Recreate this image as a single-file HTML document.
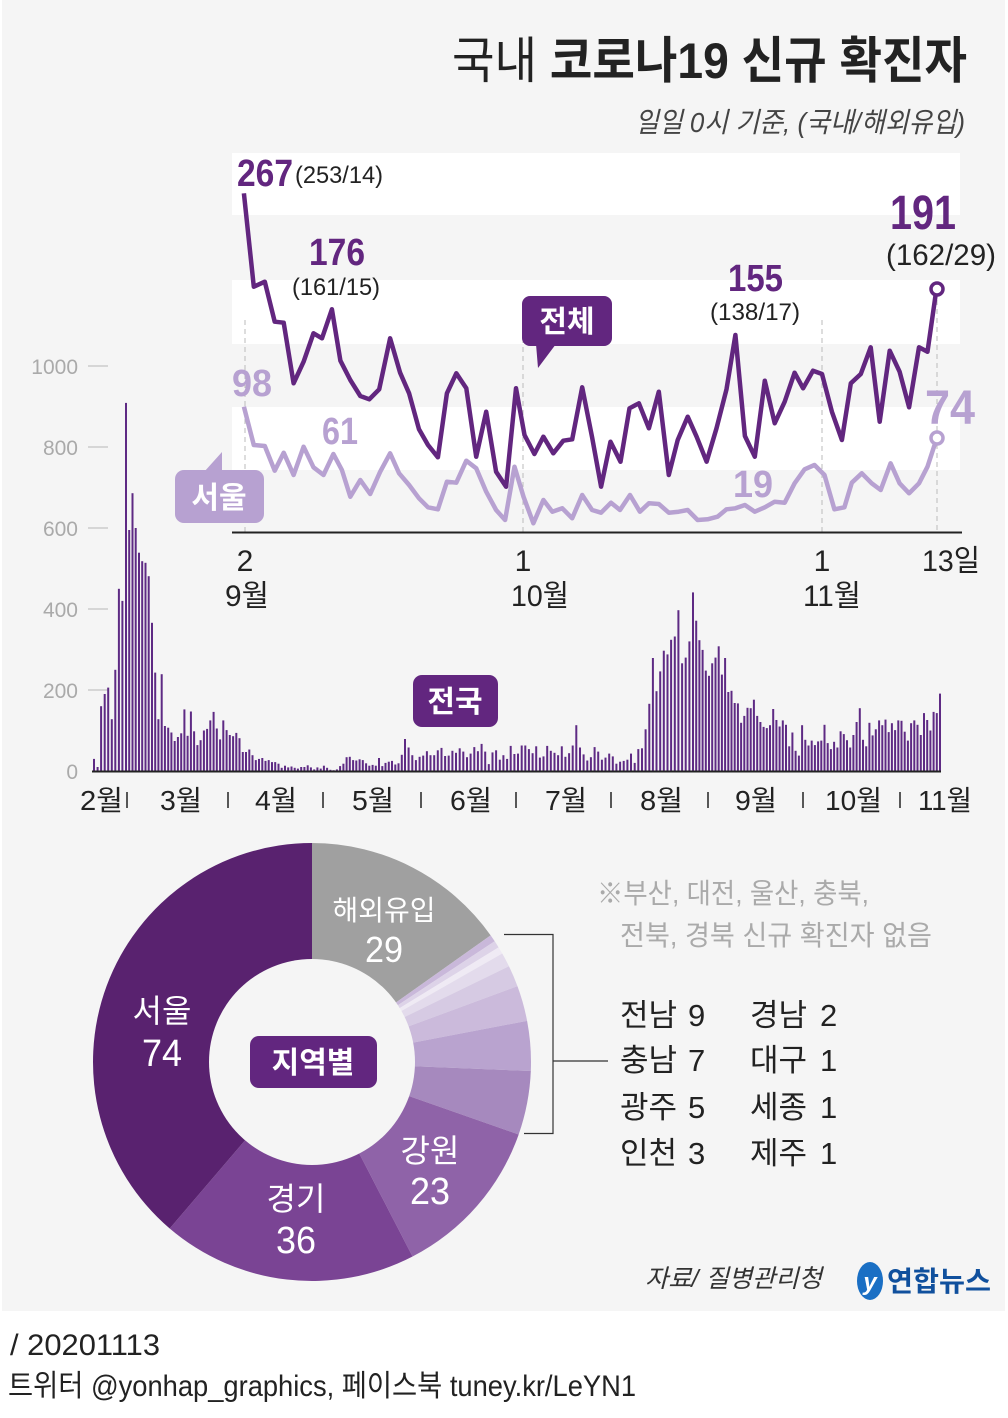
<!DOCTYPE html>
<html><head><meta charset="utf-8"><style>
html,body{margin:0;padding:0;background:#fff;}
svg{display:block;font-family:"Liberation Sans","Noto Sans CJK KR",sans-serif;}
</style></head><body>
<svg id="s" width="1008" height="1418" viewBox="0 0 1008 1418" xmlns="http://www.w3.org/2000/svg">
<rect x="2" y="0" width="1003" height="1311" fill="#f5f5f5"/>
<text x="452" y="78" font-size="50" fill="#222" textLength="515" lengthAdjust="spacingAndGlyphs"><tspan font-weight="normal">국내 </tspan><tspan font-weight="bold">코로나19 신규 확진자</tspan></text>
<text x="635" y="132" font-size="28" fill="#444" font-style="italic" textLength="330" lengthAdjust="spacingAndGlyphs">일일 0시 기준, (국내/해외유입)</text>
<rect x="232" y="153" width="728" height="62" fill="#fff"/>
<rect x="232" y="280" width="728" height="64" fill="#fff"/>
<rect x="232" y="407" width="728" height="63" fill="#fff"/>
<g stroke="#bbb" stroke-width="1" stroke-dasharray="5,4">
<line x1="245" y1="320" x2="245" y2="532"/><line x1="523" y1="320" x2="523" y2="532"/>
<line x1="822" y1="320" x2="822" y2="532"/><line x1="937" y1="300" x2="937" y2="532"/>
</g>
<g font-size="21" fill="#aaa" text-anchor="end">
<text x="78" y="374">1000</text><text x="78" y="455">800</text><text x="78" y="536">600</text>
<text x="78" y="617">400</text><text x="78" y="698">200</text><text x="78" y="779">0</text>
</g>
<g stroke="#ccc" stroke-width="1.5">
<line x1="88" y1="366" x2="108" y2="366"/><line x1="88" y1="447" x2="108" y2="447"/>
<line x1="88" y1="528" x2="108" y2="528"/><line x1="88" y1="609" x2="108" y2="609"/>
<line x1="88" y1="690" x2="108" y2="690"/>
</g>
<g id="bars" fill="#5e2a84"></g>
<line x1="92" y1="771.5" x2="941" y2="771.5" stroke="#222" stroke-width="2"/>
<line x1="232" y1="532.5" x2="962" y2="532.5" stroke="#222" stroke-width="2"/>
<polyline id="lite" fill="none" stroke="#b7a1d1" stroke-width="4.5" stroke-linejoin="round"/>
<polyline id="dark" fill="none" stroke="#62267f" stroke-width="4.5" stroke-linejoin="round"/>
<circle cx="937" cy="438" r="6" fill="#fff" stroke="#b7a1d1" stroke-width="3.5"/>
<circle cx="937" cy="289" r="6" fill="#fff" stroke="#62267f" stroke-width="3.5"/>
<text x="237" y="186" font-size="38" font-weight="bold" fill="#62267f" textLength="56" lengthAdjust="spacingAndGlyphs">267</text>
<text x="295" y="183" font-size="24" fill="#222" textLength="88" lengthAdjust="spacingAndGlyphs">(253/14)</text>
<text x="309" y="265" font-size="38" font-weight="bold" fill="#62267f" textLength="56" lengthAdjust="spacingAndGlyphs">176</text>
<text x="292" y="295" font-size="24" fill="#222" textLength="88" lengthAdjust="spacingAndGlyphs">(161/15)</text>
<text x="728" y="291" font-size="38" font-weight="bold" fill="#62267f" textLength="55" lengthAdjust="spacingAndGlyphs">155</text>
<text x="710" y="320" font-size="24" fill="#222" textLength="90" lengthAdjust="spacingAndGlyphs">(138/17)</text>
<text x="890" y="229" font-size="48" font-weight="bold" fill="#62267f" textLength="66" lengthAdjust="spacingAndGlyphs">191</text>
<text x="886" y="265" font-size="30" fill="#222" textLength="110" lengthAdjust="spacingAndGlyphs">(162/29)</text>
<text x="232" y="396" font-size="38" font-weight="bold" fill="#b7a1d1" textLength="40" lengthAdjust="spacingAndGlyphs">98</text>
<text x="322" y="444" font-size="38" font-weight="bold" fill="#b7a1d1" textLength="36" lengthAdjust="spacingAndGlyphs">61</text>
<text x="733" y="497" font-size="38" font-weight="bold" fill="#b7a1d1" textLength="40" lengthAdjust="spacingAndGlyphs">19</text>
<text x="925" y="424" font-size="48" font-weight="bold" fill="#b7a1d1" textLength="50" lengthAdjust="spacingAndGlyphs">74</text>
<rect x="522" y="296" width="90" height="50" rx="8" fill="#62267f"/>
<path d="M536 344 L538 368 L556 344 Z" fill="#62267f"/>
<text x="567" y="332" font-size="30" font-weight="bold" fill="#fff" text-anchor="middle">전체</text>
<rect x="175" y="470" width="89" height="53" rx="9" fill="#b7a1d1"/>
<path d="M204 472 L222 452 L222 472 Z" fill="#b7a1d1"/>
<text x="219" y="508" font-size="30" font-weight="bold" fill="#fff" text-anchor="middle">서울</text>
<rect x="413" y="675" width="85" height="52" rx="9" fill="#62267f"/>
<text x="455" y="712" font-size="30" font-weight="bold" fill="#fff" text-anchor="middle">전국</text>
<g font-size="30" fill="#222">
<text x="245" y="571" text-anchor="middle">2</text><text x="247" y="606" text-anchor="middle" textLength="44" lengthAdjust="spacingAndGlyphs">9월</text>
<text x="523" y="571" text-anchor="middle">1</text><text x="540" y="606" text-anchor="middle" textLength="58" lengthAdjust="spacingAndGlyphs">10월</text>
<text x="822" y="571" text-anchor="middle">1</text><text x="832" y="606" text-anchor="middle" textLength="58" lengthAdjust="spacingAndGlyphs">11월</text>
<text x="922" y="571" textLength="58" lengthAdjust="spacingAndGlyphs">13일</text>
</g>
<g font-size="28" fill="#222">
<text x="80" y="810" textLength="43" lengthAdjust="spacingAndGlyphs">2월</text>
<text x="160" y="810" textLength="42" lengthAdjust="spacingAndGlyphs">3월</text>
<text x="255" y="810" textLength="42" lengthAdjust="spacingAndGlyphs">4월</text>
<text x="352" y="810" textLength="42" lengthAdjust="spacingAndGlyphs">5월</text>
<text x="450" y="810" textLength="42" lengthAdjust="spacingAndGlyphs">6월</text>
<text x="545" y="810" textLength="42" lengthAdjust="spacingAndGlyphs">7월</text>
<text x="640" y="810" textLength="43" lengthAdjust="spacingAndGlyphs">8월</text>
<text x="735" y="810" textLength="42" lengthAdjust="spacingAndGlyphs">9월</text>
<text x="825" y="810" textLength="57" lengthAdjust="spacingAndGlyphs">10월</text>
<text x="918" y="810" textLength="54" lengthAdjust="spacingAndGlyphs">11월</text>
</g>
<g stroke="#222" stroke-width="1.5">
<line x1="127" y1="792" x2="127" y2="808"/><line x1="228" y1="792" x2="228" y2="808"/>
<line x1="323" y1="792" x2="323" y2="808"/><line x1="421" y1="792" x2="421" y2="808"/>
<line x1="516" y1="792" x2="516" y2="808"/><line x1="611" y1="792" x2="611" y2="808"/>
<line x1="708" y1="792" x2="708" y2="808"/><line x1="803" y1="792" x2="803" y2="808"/>
<line x1="900" y1="792" x2="900" y2="808"/>
</g>
<g id="pie"></g>
<circle cx="312" cy="1062" r="103" fill="#f5f5f5"/>
<rect x="250" y="1036" width="127" height="52" rx="9" fill="#62267f"/>
<text x="313" y="1073" font-size="30" font-weight="bold" fill="#fff" text-anchor="middle">지역별</text>
<g fill="#fff" text-anchor="middle">
<text x="384" y="920" font-size="28">해외유입</text><text x="384" y="962" font-size="36" textLength="38" lengthAdjust="spacingAndGlyphs">29</text>
<text x="162" y="1022" font-size="32">서울</text><text x="162" y="1066" font-size="38" textLength="40" lengthAdjust="spacingAndGlyphs">74</text>
<text x="430" y="1162" font-size="32">강원</text><text x="430" y="1204" font-size="38" textLength="40" lengthAdjust="spacingAndGlyphs">23</text>
<text x="296" y="1210" font-size="32">경기</text><text x="296" y="1253" font-size="38" textLength="40" lengthAdjust="spacingAndGlyphs">36</text>
</g>
<g stroke="#333" stroke-width="1.2" fill="none">
<polyline points="504,934.5 553,934.5 553,1133.5 524,1133.5"/>
<line x1="553" y1="1061" x2="608" y2="1061"/>
</g>
<g font-size="28" fill="#aaa">
<text x="597" y="903" textLength="272" lengthAdjust="spacingAndGlyphs">※부산, 대전, 울산, 충북,</text>
<text x="620" y="945" textLength="312" lengthAdjust="spacingAndGlyphs">전북, 경북 신규 확진자 없음</text>
</g>
<g font-size="31" fill="#222">
<text x="620" y="1026">전남</text><text x="688" y="1026">9</text><text x="750" y="1026">경남</text><text x="820" y="1026">2</text>
<text x="620" y="1071">충남</text><text x="688" y="1071">7</text><text x="750" y="1071">대구</text><text x="820" y="1071">1</text>
<text x="620" y="1118">광주</text><text x="688" y="1118">5</text><text x="750" y="1118">세종</text><text x="820" y="1118">1</text>
<text x="620" y="1164">인천</text><text x="688" y="1164">3</text><text x="750" y="1164">제주</text><text x="820" y="1164">1</text>
</g>
<text x="645" y="1287" font-size="25" font-style="italic" fill="#333" textLength="177" lengthAdjust="spacingAndGlyphs">자료/ 질병관리청</text>
<ellipse cx="870" cy="1281" rx="13" ry="19" fill="#1a6fc4"/>
<text x="870" y="1290" font-size="24" font-style="italic" font-weight="bold" fill="#fff" text-anchor="middle">y</text>
<text x="887" y="1291" font-size="28" font-weight="bold" fill="#10509d" textLength="104" lengthAdjust="spacingAndGlyphs">연합뉴스</text>
<text x="10" y="1355" font-size="30" fill="#222" textLength="150" lengthAdjust="spacingAndGlyphs">/ 20201113</text>
<text x="8" y="1396" font-size="30" fill="#222" textLength="628" lengthAdjust="spacingAndGlyphs">트위터 @yonhap_graphics, 페이스북 tuney.kr/LeYN1</text>
</svg>
<script>
var NS="http://www.w3.org/2000/svg";
function mk(zs){return zs.map(function(p){return (220+p[0]/2.01).toFixed(1)+","+(150+p[1]/3).toFixed(1)}).join(" ");}
var D=[[48,130],[68,410],[90,395],[110,515],[128,518],[148,700],[168,635],[188,550],[205,565],[225,478],[242,632],[262,690],[282,738],[300,748],[320,718],[342,565],[362,668],[380,730],[400,838],[418,885],[438,922],[456,730],[475,670],[495,715],[515,920],[535,785],[555,965],[575,1010],[595,715],[612,855],[632,912],[650,860],[670,910],[690,872],[708,868],[728,712],[748,862],[766,1010],[785,875],[805,935],[823,775],[842,760],[862,835],[882,725],[902,975],[920,870],[940,800],[958,860],[978,935],[998,835],[1018,718],[1036,555],[1055,858],[1075,920],[1095,692],[1115,820],[1135,755],[1155,668],[1172,715],[1192,662],[1210,672],[1230,785],[1250,870],[1268,700],[1288,672],[1308,592],[1326,815],[1346,602],[1366,665],[1385,772],[1405,592],[1422,605],[1440,418]];
var L=[[48,770],[68,885],[90,888],[110,962],[128,908],[148,975],[168,890],[188,952],[208,975],[228,912],[245,960],[262,1040],[282,990],[302,1032],[322,965],[342,910],[360,970],[380,1005],[400,1045],[418,1072],[438,1078],[456,995],[475,998],[495,932],[515,955],[535,1025],[555,1080],[573,1110],[592,950],[610,1040],[630,1120],[650,1050],[668,1085],[688,1075],[708,1105],[728,1035],[748,1080],[766,1088],[786,1058],[804,1080],[824,1035],[844,1085],[862,1060],[882,1062],[902,1088],[922,1085],[940,1080],[960,1110],[980,1108],[1000,1100],[1018,1078],[1036,1075],[1055,1065],[1075,1085],[1095,1072],[1115,1055],[1135,1058],[1155,1000],[1175,958],[1195,945],[1215,975],[1235,1078],[1255,1072],[1270,998],[1290,970],[1310,1000],[1328,1020],[1348,940],[1366,1000],[1385,1030],[1405,1000],[1422,950],[1440,868]];
document.getElementById("dark").setAttribute("points",mk(D));
document.getElementById("lite").setAttribute("points",mk(L));
var B=[30,10,160,190,206,128,250,450,420,909,595,686,600,539,518,514,481,366,243,128,239,111,107,95,74,84,93,152,87,147,98,64,76,100,104,125,146,105,78,125,101,89,86,94,81,47,47,53,39,27,30,32,25,27,22,22,18,8,13,9,11,8,6,10,10,14,9,4,9,6,13,8,3,2,4,12,18,34,35,27,26,29,27,19,13,15,13,32,12,20,23,25,16,19,40,79,58,39,27,35,38,49,39,39,51,57,37,38,50,45,56,48,34,43,59,49,67,48,17,46,51,28,39,30,62,42,43,63,63,54,44,61,33,36,62,50,45,39,61,35,44,63,113,58,41,26,34,59,48,28,33,43,36,18,23,25,28,43,20,54,56,103,166,279,197,246,297,288,324,332,397,266,280,320,441,371,323,299,248,235,266,280,308,238,279,195,198,168,167,119,136,156,155,176,136,121,109,106,113,153,126,110,125,114,61,95,50,38,113,77,63,75,64,73,75,114,69,54,72,58,98,91,76,58,89,121,155,77,61,119,88,103,125,113,127,96,118,101,125,124,97,75,118,125,114,89,143,126,100,146,143,191];
var n=B.length;
var A=[[0,94],[B.indexOf(909),126],[B.indexOf(79),405],[B.indexOf(441),693],[n-1,940]];
function xm(i){for(var k=0;k<A.length-1;k++){if(i<=A[k+1][0]){var t=(i-A[k][0])/(A[k+1][0]-A[k][0]);return A[k][1]+t*(A[k+1][1]-A[k][1]);}}return 940;}
var g=document.getElementById("bars");
for(var i=0;i<n;i++){var h=B[i]*0.405,r=document.createElementNS(NS,"rect");r.setAttribute("x",(xm(i)-1).toFixed(1));r.setAttribute("y",(771-h).toFixed(1));r.setAttribute("width","2");r.setAttribute("height",h.toFixed(1));g.appendChild(r);}
var P=[[29,"#a0a0a0"],[1,"#c9b8da"],[1,"#ddd3e8"],[1,"#efeaf4"],[2,"#e3dbec"],[3,"#d6cae3"],[5,"#cbbadb"],[7,"#b9a3cf"],[9,"#a689be"],[23,"#8f63a8"],[36,"#7a4494"],[74,"#59226f"]];
var pg=document.getElementById("pie"),cx=312,cy=1062,R=219,a=0;
P.forEach(function(p){var a2=a+p[0]/191*2*Math.PI;var x1=cx+R*Math.sin(a),y1=cy-R*Math.cos(a),x2=cx+R*Math.sin(a2),y2=cy-R*Math.cos(a2);
var e=document.createElementNS(NS,"path");e.setAttribute("d","M"+cx+","+cy+" L"+x1+","+y1+" A"+R+","+R+" 0 "+((a2-a)>Math.PI?1:0)+" 1 "+x2+","+y2+" Z");e.setAttribute("fill",p[1]);pg.appendChild(e);a=a2;});
</script>
</body></html>
